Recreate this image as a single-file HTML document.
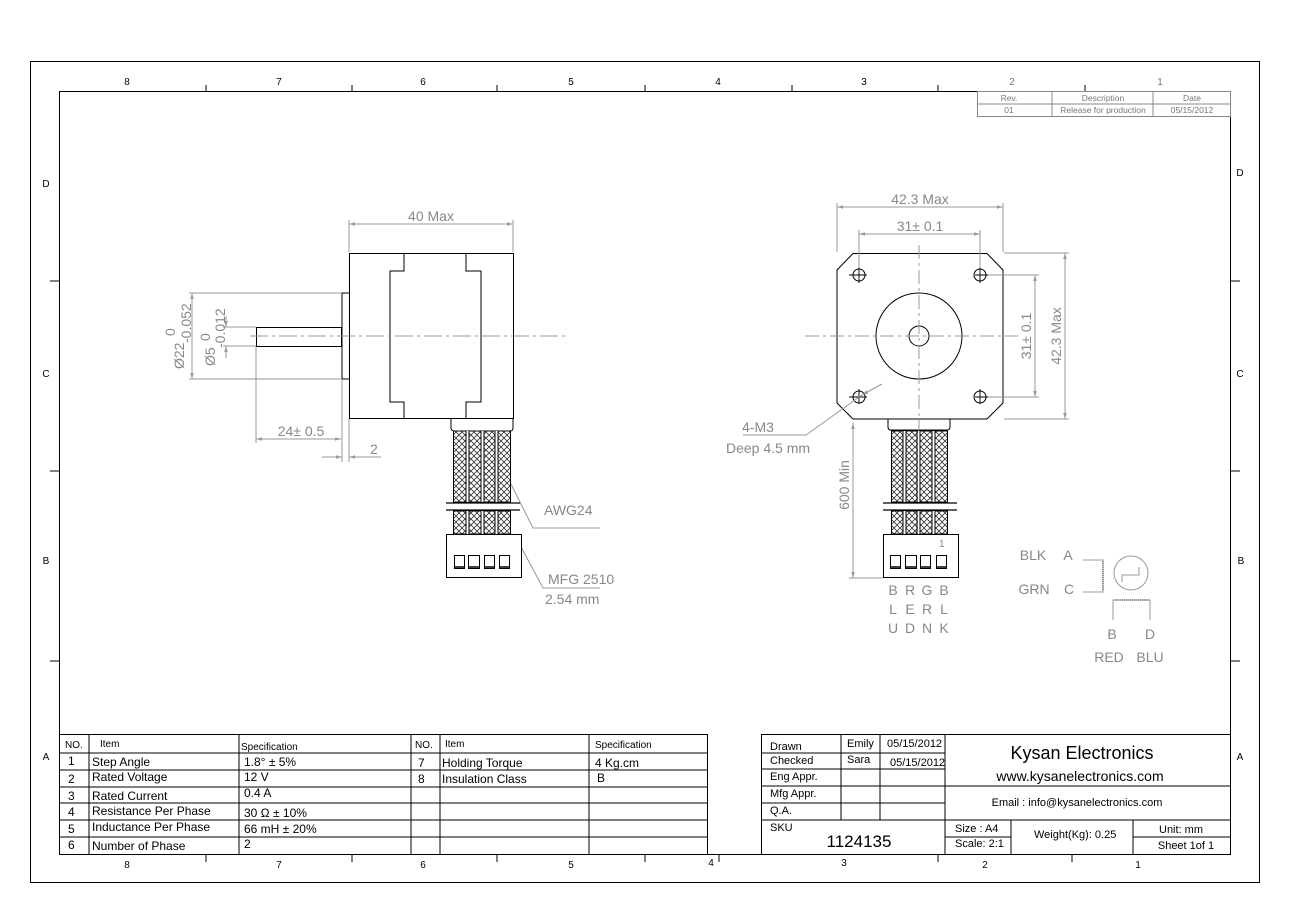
<!DOCTYPE html>
<html><head><meta charset="utf-8"><style>
html,body{margin:0;padding:0;background:#fff}
svg{display:block}
text{font-family:"Liberation Sans",Arial,sans-serif}
.g{fill:#888}
.dim{stroke:#999;stroke-width:1;fill:none}
.k{stroke:#000;stroke-width:1;fill:none}
.t{font-size:11px;fill:#000}
</style></head><body>
<svg width="1291" height="912" viewBox="0 0 1291 912" xmlns="http://www.w3.org/2000/svg">
<defs>
<pattern id="h" width="6" height="6" patternUnits="userSpaceOnUse">
<path d="M0 0L6 6M6 0L0 6" stroke="#333" stroke-width="0.8"/>
</pattern>
<marker id="a" viewBox="0 0 10 10" refX="10" refY="5" markerWidth="8" markerHeight="6" orient="auto-start-reverse"><path d="M0 2L10 5L0 8z" fill="#999"/></marker>
</defs>
<rect width="1291" height="912" fill="#fff"/>
<!-- frame -->
<rect x="30.5" y="61.5" width="1229" height="821" class="k" stroke-width="1.3"/>
<rect x="59.5" y="91.5" width="1171" height="763" class="k" stroke-width="1.3"/>
<g font-size="10" font-family="Liberation Mono,monospace" text-anchor="middle">
<text x="127" y="85">8</text><text x="279" y="85">7</text><text x="423" y="85">6</text><text x="571" y="85">5</text><text x="718" y="85">4</text><text x="864" y="85">3</text><text x="1012" y="85" fill="#777">2</text><text x="1160" y="85" fill="#777">1</text>
<text x="127" y="868">8</text><text x="279" y="868">7</text><text x="423" y="868">6</text><text x="571" y="868">5</text><text x="711" y="866">4</text><text x="844" y="866">3</text><text x="985" y="868">2</text><text x="1138" y="868">1</text>
<text x="46" y="187">D</text><text x="46" y="377">C</text><text x="46" y="564">B</text><text x="46" y="760">A</text>
<text x="1240" y="176">D</text><text x="1240" y="377">C</text><text x="1241" y="564">B</text><text x="1240" y="760">A</text>
</g>
<g class="k">
<path d="M206 85V91M352 85V91M497 85V91M645 85V91M792 85V91M938 85V91M1085 85V91"/>
<path d="M206 855V862M352 855V862M497 855V862M645 855V862M719 855V862M938 855V862M1072 855V862"/>
<path d="M50 281H59M50 471H59M50 661H59M1230 281H1240M1230 471H1240M1230 661H1240"/>
</g>
<!-- revision table -->
<g stroke="#888" fill="none">
<rect x="977.5" y="91.5" width="253" height="25"/>
<path d="M977 104H1230M1052 91V116M1153 91V116"/>
</g>
<g font-size="8.5" fill="#777" text-anchor="middle">
<text x="1009" y="101">Rev.</text><text x="1103" y="101">Description</text><text x="1192" y="101">Date</text>
<text x="1009" y="113">01</text><text x="1103" y="113">Release for production</text><text x="1192" y="113">05/15/2012</text>
</g>

<!-- LEFT VIEW -->
<g class="k" stroke-width="1.2">
<rect x="349.5" y="253.5" width="164" height="165"/>
<path d="M404 253V271H390V402H404V418M466 253V271H481V402H466V418"/>
<path d="M349 293H342V379H349"/>
<rect x="256.5" y="327.5" width="85" height="19"/>
<path d="M451 419V428Q451 431 455 431H510Q513 431 513 428V419"/>
</g>
<path d="M250 336H565" stroke="#999" stroke-dasharray="18 4 3 4"/>
<!-- left dims -->
<g class="dim">
<path d="M349 252V220M513 252V220"/><path d="M349 224H513" marker-start="url(#a)" marker-end="url(#a)"/>
<path d="M341 293H189M341 379H189"/><path d="M192 293V379" marker-start="url(#a)" marker-end="url(#a)"/>
<path d="M256 327H223M256 346H223"/><path d="M226 316V327" marker-end="url(#a)"/><path d="M226 358V346" marker-end="url(#a)"/>
<path d="M256 347V443M342 380V462M349 419V462"/>
<path d="M256 439H341" marker-start="url(#a)" marker-end="url(#a)"/>
<path d="M322 457H342" marker-end="url(#a)"/><path d="M381 457H349" marker-end="url(#a)"/>
<path d="M510 482L533 528H600"/><path d="M520 545L543 588H600"/>
</g>
<g class="g" font-size="14">
<text x="431" y="221" text-anchor="middle">40 Max</text>
<text x="301" y="436" text-anchor="middle">24± 0.5</text>
<text x="370" y="454">2</text>
<text x="544" y="515">AWG24</text>
<text x="548" y="584">MFG 2510</text>
<text x="545" y="604">2.54 mm</text>
<text transform="translate(184,369) rotate(-90)">Ø22</text>
<text transform="translate(175,336) rotate(-90)">0</text>
<text transform="translate(191,343) rotate(-90)">-0.052</text>
<text transform="translate(215,366) rotate(-90)">Ø5</text>
<text transform="translate(210,341) rotate(-90)">0</text>
<text transform="translate(225,348) rotate(-90)">-0.012</text>
</g>
<!-- left cable -->
<g stroke="#000" stroke-width="1">
<rect x="453.5" y="431" width="57" height="71" fill="url(#h)"/>
<rect x="453.5" y="511" width="57" height="23" fill="url(#h)"/>
<path d="M467.5 431V502M482.5 431V502M496.5 431V502M467.5 511V534M482.5 511V534M496.5 511V534" stroke-width="2.2" stroke="#fff"/>
<path d="M466 431V502M469 431V502M481 431V502M484 431V502M495 431V502M498 431V502M466 511V534M469 511V534M481 511V534M484 511V534M495 511V534M498 511V534"/>
<path d="M446 503H520M446 510H520" stroke-width="1.3"/>
<rect x="446.5" y="534.5" width="75" height="43" fill="#fff"/>
<rect x="454.5" y="555.5" width="10" height="13" fill="none"/><rect x="468.5" y="555.5" width="11" height="13" fill="none"/><rect x="484.5" y="555.5" width="10" height="13" fill="none"/><rect x="499.5" y="555.5" width="10" height="13" fill="none"/>
<path d="M455 567H464M469 567H479M485 567H494M500 567H509" stroke-width="1.5"/>
</g>

<!-- RIGHT VIEW -->
<g class="k" stroke-width="1.2">
<path d="M853 253.5H987L1003 270V403L987 419H853L837 403V270Z"/>
<circle cx="919" cy="336" r="43"/>
<circle cx="919" cy="336" r="10"/>
<circle cx="859" cy="275" r="6"/><circle cx="980" cy="275" r="6"/><circle cx="859" cy="397" r="6"/><circle cx="980" cy="397" r="6"/>
<path d="M849 275H867M859 268V283M975 275H988M980 268V283M849 397H867M859 389V404M975 397H988M980 389V404" stroke-width="0.9"/>
<path d="M888 419V427Q888 430 891 430H947Q950 430 950 427V419"/>
</g>
<path d="M805 336H1018M919 245V432" stroke="#999" stroke-dasharray="14 4 3 4"/>
<g class="dim">
<path d="M837 252V203M1003 252V203M859 268V230M980 268V230"/>
<path d="M837 207H1003" marker-start="url(#a)" marker-end="url(#a)"/>
<path d="M859 234H980" marker-start="url(#a)" marker-end="url(#a)"/>
<path d="M988 275H1039M988 397H1039M1004 253H1069M1004 419H1069"/>
<path d="M1035 275V397" marker-start="url(#a)" marker-end="url(#a)"/>
<path d="M1065 253V419" marker-start="url(#a)" marker-end="url(#a)"/>
<path d="M853 423V578" marker-start="url(#a)" marker-end="url(#a)"/><path d="M849 578H883"/>
<path d="M882 384L862 395" marker-end="url(#a)"/><path d="M862 395L806 435H743"/>
</g>
<g class="g" font-size="14">
<text x="920" y="204" text-anchor="middle">42.3 Max</text>
<text x="920" y="231" text-anchor="middle">31± 0.1</text>
<text transform="translate(1031,336) rotate(-90)" text-anchor="middle">31± 0.1</text>
<text transform="translate(1061,336) rotate(-90)" text-anchor="middle">42.3 Max</text>
<text transform="translate(849,485) rotate(-90)" text-anchor="middle">600 Min</text>
<text x="742" y="432">4-M3</text>
<text x="726" y="453">Deep 4.5 mm</text>
</g>
<g stroke="#000" stroke-width="1">
<rect x="891.5" y="431" width="56" height="71" fill="url(#h)"/>
<rect x="891.5" y="511" width="56" height="23" fill="url(#h)"/>
<path d="M904.5 431V502M919 431V502M933.5 431V502M904.5 511V534M919 511V534M933.5 511V534" stroke-width="2.2" stroke="#fff"/>
<path d="M903 431V502M906 431V502M917 431V502M920 431V502M932 431V502M935 431V502M903 511V534M906 511V534M917 511V534M920 511V534M932 511V534M935 511V534"/>
<path d="M883 503H957M883 510H957" stroke-width="1.3"/>
<rect x="883.5" y="534.5" width="75" height="43" fill="#fff"/>
<rect x="890.5" y="555.5" width="10" height="13" fill="none"/><rect x="905.5" y="555.5" width="11" height="13" fill="none"/><rect x="920.5" y="555.5" width="10" height="13" fill="none"/><rect x="936.5" y="555.5" width="10" height="13" fill="none"/>
<path d="M891 567H900M906 567H916M921 567H930M937 567H946" stroke-width="1.5"/>
</g>
<text x="939" y="547" font-size="10" class="g">1</text>
<g class="g" font-size="14" text-anchor="middle">
<text x="893" y="595">B</text><text x="910" y="595">R</text><text x="927" y="595">G</text><text x="944" y="595">B</text>
<text x="893" y="614">L</text><text x="910" y="614">E</text><text x="927" y="614">R</text><text x="944" y="614">L</text>
<text x="893" y="633">U</text><text x="910" y="633">D</text><text x="927" y="633">N</text><text x="944" y="633">K</text>
<text x="1033" y="560">BLK</text><text x="1068" y="560">A</text>
<text x="1034" y="594">GRN</text><text x="1069" y="594">C</text>
<text x="1112" y="639">B</text><text x="1150" y="639">D</text>
<text x="1109" y="662">RED</text><text x="1150" y="662">BLU</text>
</g>
<g stroke="#999" fill="none">
<path d="M1083 560H1103V592H1083"/>
<path d="M1103 561V591" stroke-dasharray="1 1" stroke-width="2"/>
<circle cx="1131" cy="573" r="17"/>
<path d="M1122 582V575H1139V567"/>
<path d="M1113 620V600H1150V620"/>
<path d="M1114 600H1149" stroke-dasharray="1 1" stroke-width="2"/>
</g>

<!-- spec table -->
<g class="k">
<path d="M59.5 734.5H707.5V854"/>
<path d="M59 753H707M59 770H707M59 787H707M59 803H707M59 820H707M59 837H707"/>
<path d="M89 734V854M239 734V854M411 734V854M440 734V854M589 734V854"/>
</g>
<g class="t">
<text x="65" y="748" font-size="10">NO.</text><text x="100" y="747" font-size="10">Item</text><text x="241" y="750" font-size="10">Specification</text>
<text x="415" y="748" font-size="10">NO.</text><text x="445" y="747" font-size="10">Item</text><text x="595" y="748" font-size="10">Specification</text>
<g font-size="12">
<text x="68" y="765">1</text><text x="92" y="766">Step Angle</text><text x="244" y="766">1.8° ± 5%</text>
<text x="68" y="783">2</text><text x="92" y="781">Rated Voltage</text><text x="244" y="781">12 V</text>
<text x="68" y="800">3</text><text x="92" y="800">Rated Current</text><text x="244" y="797">0.4 A</text>
<text x="68" y="816">4</text><text x="92" y="815">Resistance Per Phase</text><text x="244" y="817">30 Ω ± 10%</text>
<text x="68" y="833">5</text><text x="92" y="831">Inductance Per Phase</text><text x="244" y="833">66 mH ± 20%</text>
<text x="68" y="849">6</text><text x="92" y="850">Number of Phase</text><text x="244" y="848">2</text>
<text x="418" y="767">7</text><text x="442" y="767">Holding Torque</text><text x="595" y="767">4 Kg.cm</text>
<text x="418" y="783">8</text><text x="442" y="783">Insulation Class</text><text x="597" y="782">B</text>
</g>
</g>
<!-- title block -->
<g class="k">
<path d="M761.5 854V734.5H1230"/>
<path d="M761 753H945M761 769H945M761 786H1230M761 803H945M761 820H1230M945 837H1011M1133 837H1230"/>
<path d="M841 734V820M880 734V820M945 734V854M1011 820V854M1133 820V854"/>
</g>
<g class="t" font-size="9">
<text x="770" y="750">Drawn</text><text x="847" y="747">Emily</text><text x="887" y="747">05/15/2012</text>
<text x="770" y="764">Checked</text><text x="847" y="763">Sara</text><text x="890" y="766">05/15/2012</text>
<text x="770" y="780">Eng Appr.</text>
<text x="770" y="797">Mfg Appr.</text>
<text x="770" y="814">Q.A.</text>
<text x="770" y="831" font-size="11">SKU</text>
<text x="955" y="832">Size : A4</text><text x="955" y="847">Scale: 2:1</text>
<text x="1034" y="838">Weight(Kg):  0.25</text>
<text x="1181" y="833" text-anchor="middle" font-size="11">Unit: mm</text>
<text x="1186" y="849" text-anchor="middle" font-size="11">Sheet 1of 1</text>
</g>
<text x="1082" y="759" text-anchor="middle" font-size="18">Kysan Electronics</text>
<text x="1080" y="781" text-anchor="middle" font-size="14">www.kysanelectronics.com</text>
<text x="1077" y="806" text-anchor="middle" font-size="11">Email : info@kysanelectronics.com</text>
<text x="859" y="847" text-anchor="middle" font-size="17">1124135</text>
</svg>
</body></html>
